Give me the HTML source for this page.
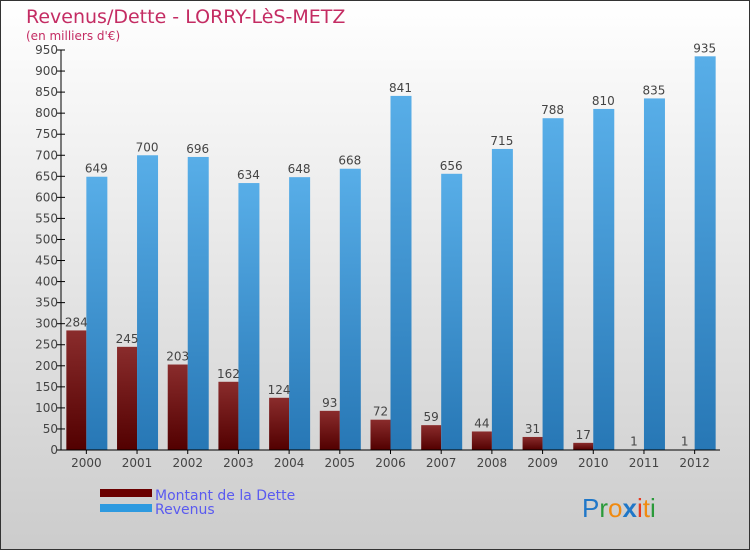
<!DOCTYPE html>
<html><head><meta charset="utf-8"><style>
html,body{margin:0;padding:0}
body{width:750px;height:550px;overflow:hidden;font-family:"DejaVu Sans","Liberation Sans",sans-serif}
</style></head><body>
<svg width="750" height="550" xmlns="http://www.w3.org/2000/svg">
<defs>
<linearGradient id="bg" x1="0" y1="0" x2="0" y2="1"><stop offset="0" stop-color="#ffffff"/><stop offset="1" stop-color="#cccccc"/></linearGradient>
<linearGradient id="red" x1="0" y1="0" x2="0" y2="1"><stop offset="0" stop-color="#8a2c2c"/><stop offset="1" stop-color="#520000"/></linearGradient>
<linearGradient id="blue" x1="0" y1="0" x2="0" y2="1"><stop offset="0" stop-color="#58aee8"/><stop offset="1" stop-color="#2777b5"/></linearGradient>
</defs>
<rect x="0.5" y="0.5" width="749" height="549" fill="url(#bg)" stroke="#333"/>
<text x="26" y="23" font-size="19" fill="#c42c63">Revenus/Dette - LORRY-LèS-METZ</text>
<text x="26" y="40" font-size="12" fill="#c42c63">(en milliers d'€)</text>
<g id="plot"></g>
<rect x="100" y="489" width="52" height="8" fill="#6b0000"/>
<text x="155" y="500" font-size="14" fill="#5a5af0">Montant de la Dette</text>
<rect x="100" y="504" width="52" height="8" fill="#2e9ae0"/>
<text x="155" y="514" font-size="14" fill="#5a5af0">Revenus</text>
<g font-size="26" font-family="Liberation Sans, sans-serif">
<text x="582" y="517"><tspan fill="#1f77c8">P</tspan><tspan fill="#2a9a3a">r</tspan><tspan fill="#f08a10">o</tspan><tspan fill="#1f77c8" font-weight="bold">x</tspan><tspan fill="#e83a20">i</tspan><tspan fill="#f08a10">t</tspan><tspan fill="#2a9a3a">i</tspan></text>
</g>
</svg>
<script>
const years=["2000","2001","2002","2003","2004","2005","2006","2007","2008","2009","2010","2011","2012"];
const dette=[284,245,203,162,124,93,72,59,44,31,17,1,1];
const revenus=[649,700,696,634,648,668,841,656,715,788,810,835,935];
const yTicks=[0,50,100,150,200,250,300,350,400,450,500,550,600,650,700,750,800,850,900,950];
const NS="http://www.w3.org/2000/svg";
const g=document.getElementById('plot');
const x0=61,x1=720,y0=450,yTop=50,yMax=950;
const step=(x1-x0)/years.length;
const Y=v=>y0-v/yMax*(y0-yTop);
const X=i=>x0+step*(i+0.5);
function mk(t,a){const e=document.createElementNS(NS,t);for(const k in a)e.setAttribute(k,a[k]);g.appendChild(e);return e;}
years.forEach((yr,i)=>{
  const cx=X(i);
  let r=mk('rect',{x:cx-20,y:Y(dette[i]),width:20,height:y0-Y(dette[i]),fill:'url(#red)'});
  
  
  let b=mk('rect',{x:cx,y:Y(revenus[i]),width:21,height:y0-Y(revenus[i]),fill:'url(#blue)'});
  
  
  let t1=mk('text',{x:cx-10,y:Y(dette[i])-4,'font-size':12,fill:'#444','text-anchor':'middle'});t1.textContent=dette[i];
  
  
  let t2=mk('text',{x:cx+10,y:Y(revenus[i])-4,'font-size':12,fill:'#444','text-anchor':'middle'});t2.textContent=revenus[i];
  
  
  let tk=mk('line',{x1:cx,x2:cx,y1:y0,y2:y0+4,stroke:'#000'});
  
  
  let xl=mk('text',{x:cx,y:467,'font-size':12,fill:'#444','text-anchor':'middle'});xl.textContent=yr;
  
  
});
yTicks.forEach(v=>{
  let tk=mk('line',{x1:x0-4,x2:x0+4,y1:Y(v),y2:Y(v),stroke:'#000'});
  
  
  let t=mk('text',{x:x0-3,y:Y(v)+4,'font-size':12,fill:'#444','text-anchor':'end'});t.textContent=v;
  
  
});
let ya=mk('line',{x1:x0,x2:x0,y1:yTop,y2:y0,stroke:'#000'});


let xa=mk('line',{x1:x0-4,x2:x1,y1:y0,y2:y0,stroke:'#000'});


</script>
</body></html>
